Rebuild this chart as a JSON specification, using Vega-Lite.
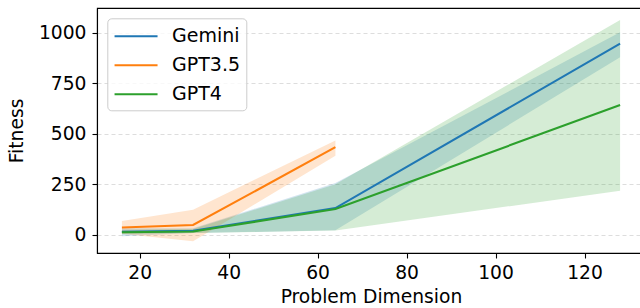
{
  "$schema": "https://vega.github.io/schema/vega-lite/v6.json",
  "width": 548,
  "height": 245,
  "autosize": {"type": "none"},
  "padding": {"left": 97, "top": 8, "right": 0, "bottom": 55},
  "config": {
    "font": "DejaVu Sans",
    "view": {"stroke": "black", "strokeWidth": 1.1},
    "axis": {
      "labelFont": "DejaVu Sans",
      "titleFont": "DejaVu Sans",
      "labelFontSize": 18.7,
      "titleFontSize": 18.7,
      "titleFontWeight": "normal",
      "labelColor": "black",
      "titleColor": "black",
      "tickColor": "black",
      "tickSize": 5,
      "tickWidth": 1.1,
      "domainColor": "black",
      "domainWidth": 1.1,
      "labelPadding": 5
    },
    "legend": {
      "labelFont": "DejaVu Sans",
      "labelFontSize": 19,
      "labelColor": "black"
    }
  },
  "resolve": {"legend": {"color": "independent"}},
  "data": {
    "values": [
      {"model": "Gemini", "dim": 16, "mean": 15, "lo": -8, "hi": 32},
      {"model": "Gemini", "dim": 32, "mean": 19, "lo": 8, "hi": 32},
      {"model": "Gemini", "dim": 64, "mean": 132, "lo": 22, "hi": 256},
      {"model": "Gemini", "dim": 128, "mean": 947, "lo": 880, "hi": 1003},
      {"model": "GPT3.5", "dim": 16, "mean": 36, "lo": 5, "hi": 68},
      {"model": "GPT3.5", "dim": 32, "mean": 48, "lo": -32, "hi": 124},
      {"model": "GPT3.5", "dim": 64, "mean": 434, "lo": 391, "hi": 467},
      {"model": "GPT4", "dim": 16, "mean": 12, "lo": 2, "hi": 25},
      {"model": "GPT4", "dim": 32, "mean": 16, "lo": 8, "hi": 28},
      {"model": "GPT4", "dim": 64, "mean": 127, "lo": 21, "hi": 250},
      {"model": "GPT4", "dim": 128, "mean": 643, "lo": 218, "hi": 1064}
    ]
  },
  "encoding": {
    "x": {
      "field": "dim",
      "type": "quantitative",
      "scale": {"domain": [10.4, 133.6], "nice": false, "zero": false},
      "axis": {"values": [20, 40, 60, 80, 100, 120], "title": "Problem Dimension", "grid": false, "titlePadding": 6}
    }
  },
  "layer": [
    {
      "mark": {"type": "area", "opacity": 0.2},
      "encoding": {
        "y": {
          "field": "lo",
          "type": "quantitative",
          "scale": {"domain": [-90.6, 1123.8], "nice": false, "zero": false},
          "axis": {"values": [0, 250, 500, 750, 1000], "format": "d", "title": "Fitness", "grid": true, "gridDash": [4, 3], "gridColor": "#dddddd", "titlePadding": 12, "labelPadding": 6}
        },
        "y2": {"field": "hi"},
        "color": {
          "field": "model",
          "type": "nominal",
          "scale": {"domain": ["Gemini", "GPT3.5", "GPT4"], "range": ["#1f77b4", "#ff7f0e", "#2ca02c"]},
          "legend": null
        }
      }
    },
    {
      "mark": {"type": "line", "strokeWidth": 2.1},
      "encoding": {
        "y": {"field": "mean", "type": "quantitative"},
        "color": {
          "field": "model",
          "type": "nominal",
          "legend": {
            "title": null,
            "orient": "none",
            "legendX": 10.3,
            "legendY": 10.3,
            "padding": 6,
            "strokeColor": "#cccccc",
            "fillColor": "rgba(255,255,255,0.8)",
            "cornerRadius": 4,
            "symbolType": "M-2,0H2",
            "symbolSize": 462,
            "symbolOffset": 10.75,
            "symbolStrokeWidth": 2.1,
            "labelOffset": 24,
            "rowPadding": 7
          }
        }
      }
    }
  ]
}
